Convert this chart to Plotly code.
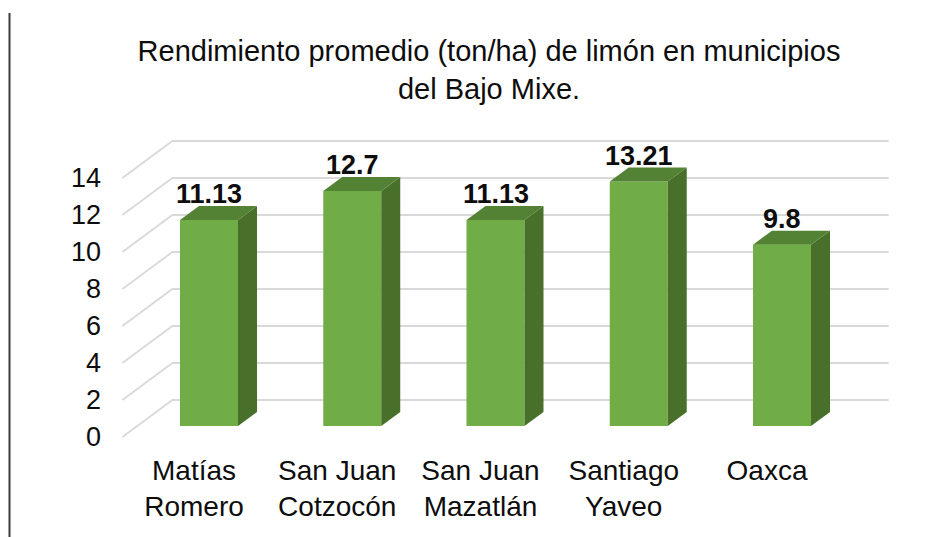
import plotly.graph_objects as go

# ---------------- data ----------------
categories = ["Matías<br>Romero", "San Juan<br>Cotzocón", "San Juan<br>Mazatlán",
              "Santiago<br>Yaveo", "Oaxca"]
values = [11.13, 12.7, 11.13, 13.21, 9.8]
value_labels = ["11.13", "12.7", "11.13", "13.21", "9.8"]
y_ticks = [0, 2, 4, 6, 8, 10, 12, 14]
title_text = "Rendimiento promedio (ton/ha) de limón en municipios<br>del Bajo Mixe."

# ---------------- geometry / style ----------------
OFF = 8                 # page body margin
W, H = 947 - OFF, 537 - OFF
PX_X = 143.25           # pixels per category
PX_Y = 18.5             # pixels per value unit
X0_PX = 209 - OFF       # pixel x of first bar centre
Y0_PX = 426 - OFF       # pixel y of bar base
L, R, T, B = 102, 39, 122, 92

x_range = [(L - X0_PX) / PX_X, (W - R - X0_PX) / PX_X]
y_range = [(Y0_PX - (H - B)) / PX_Y, (Y0_PX - T) / PX_Y]

bar_w = 58 / PX_X
side_dx = 19 / PX_X
side_dy = 14 / PX_Y
back_dx, back_dy = 35 / PX_X, 26 / PX_Y       # bar plane -> back wall
front_dx, front_dy = 15 / PX_X, 11 / PX_Y     # bar plane -> front edge

FRONT = "#70ad47"
TOP = "#548235"
SIDE = "#48702a"
GRID = "#d9d9d9"
FONT = "Arial, Liberation Sans, sans-serif"
TXT = "#0d0d0d"

n = len(categories)
xs = list(range(n))

fig = go.Figure()

# front faces
fig.add_trace(go.Bar(x=xs, y=values, width=bar_w, marker=dict(color=FRONT, line=dict(width=0)),
                     hoverinfo="skip", showlegend=False))

# side + top faces
for i, v in zip(xs, values):
    xr = i + bar_w / 2
    xl = i - bar_w / 2
    fig.add_trace(go.Scatter(
        x=[xr, xr + side_dx, xr + side_dx, xr, xr],
        y=[0, side_dy, v + side_dy, v, 0],
        mode="lines", fill="toself", fillcolor=SIDE, line=dict(width=0, color=SIDE),
        hoverinfo="skip", showlegend=False))
    fig.add_trace(go.Scatter(
        x=[xl, xl + side_dx, xr + side_dx, xr, xl],
        y=[v, v + side_dy, v + side_dy, v, v],
        mode="lines", fill="toself", fillcolor=TOP, line=dict(width=0, color=TOP),
        hoverinfo="skip", showlegend=False))

# gridlines (floor diagonal + back wall)
x_fl = -0.5 - front_dx
x_bl = -0.5 + back_dx
x_br = n - 0.5 + back_dx
for t in y_ticks:
    fig.add_shape(type="path",
                  path=f"M {x_fl},{t - front_dy} L {x_bl},{t + back_dy} L {x_br},{t + back_dy}",
                  xref="x", yref="y", layer="below",
                  line=dict(color=GRID, width=1.8))

# data labels
for i, v, lab in zip(xs, values, value_labels):
    fig.add_annotation(x=i, y=v, text=f"<b>{lab}</b>", showarrow=False,
                       yanchor="bottom", yshift=9,
                       font=dict(family=FONT, size=27, color=TXT))

# left border line of the page
fig.add_shape(type="line", xref="paper", yref="paper",
              x0=(9.5 - OFF - L) / (W - L - R), x1=(9.5 - OFF - L) / (W - L - R),
              y0=(H - B - (13 - OFF)) / (H - T - B), y1=(H - B - (H + 5)) / (H - T - B),
              line=dict(color="#3a3a3a", width=2))

fig.update_layout(
    width=W, height=H,
    margin=dict(l=L, r=R, t=T, b=B),
    paper_bgcolor="white", plot_bgcolor="white",
    showlegend=False,
    title=dict(text=title_text, x=(489 - OFF) / W, xanchor="center",
               y=1 - 53 / H, yanchor="top", yref="container",
               font=dict(family=FONT, size=29, color=TXT)),
    xaxis=dict(range=x_range, showgrid=False, zeroline=False, showline=False,
               tickmode="array", tickvals=[i - front_dx for i in xs], ticktext=categories,
               ticks="", tickfont=dict(family=FONT, size=28, color=TXT),
               ticklabelstandoff=6, fixedrange=True),
    yaxis=dict(range=y_range, showgrid=False, zeroline=False, showline=False,
               tickmode="array", tickvals=[t - front_dy for t in y_ticks],
               ticktext=[str(t) for t in y_ticks], ticks="",
               tickfont=dict(family=FONT, size=27, color=TXT),
               ticklabelstandoff=8, fixedrange=True),
)

fig.write_html("out.html")
